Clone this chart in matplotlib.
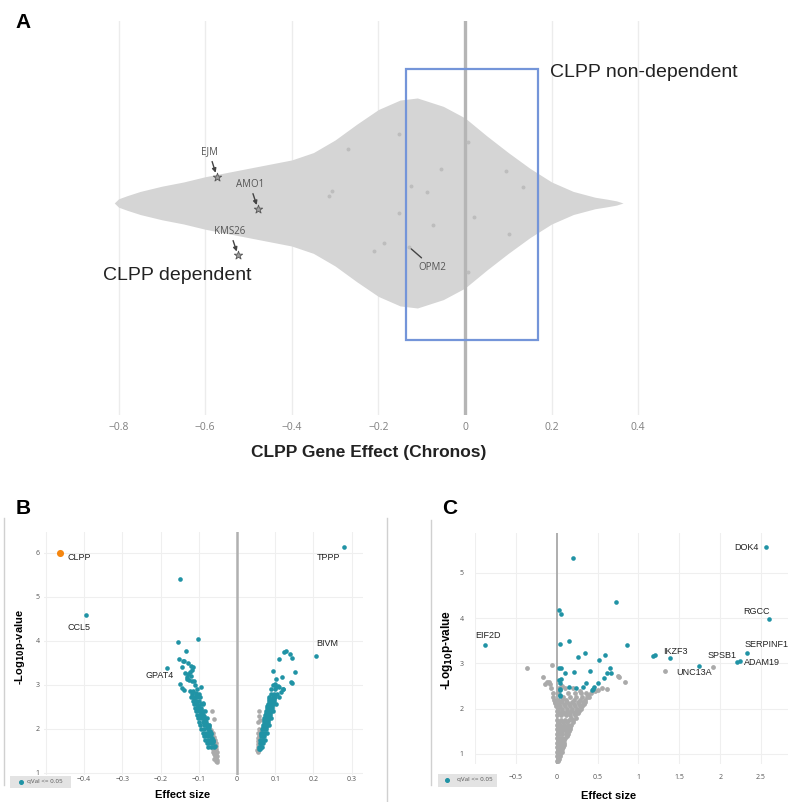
import matplotlib
matplotlib.use('Agg')
import matplotlib.pyplot as plt
from matplotlib.patches import Rectangle
from matplotlib.lines import Line2D

# ---------------- DATA ----------------
# Panel A: violin outline (CLPP gene effect vs relative half-width)
violin_x = [-0.81, -0.80, -0.78, -0.75, -0.70, -0.65, -0.60, -0.55, -0.50, -0.45, -0.40,
            -0.35, -0.30, -0.25, -0.20, -0.15, -0.11, -0.05, 0.00, 0.05, 0.10, 0.15,
            0.20, 0.25, 0.30, 0.33, 0.35, 0.365]
violin_hw = [0.0, 0.04, 0.07, 0.11, 0.16, 0.20, 0.25, 0.29, 0.33, 0.37, 0.41,
             0.48, 0.60, 0.75, 0.89, 0.98, 1.00, 0.92, 0.81, 0.64, 0.48, 0.33,
             0.20, 0.11, 0.055, 0.035, 0.02, 0.0]
cell_effect = [-0.27, -0.314, -0.308, -0.152, -0.152, -0.186, -0.21, 0.007, -0.056, -0.125,
               -0.088, 0.095, 0.134, 0.021, -0.074, 0.102, -0.129, 0.007]
cell_jitter = [0.51, 0.07, 0.11, 0.66, -0.10, -0.38, -0.46, 0.58, 0.32, 0.16,
               0.10, 0.30, 0.15, -0.13, -0.21, -0.30, -0.42, -0.66]
star_names = ['EJM', 'AMO1', 'KMS26']
star_effect = [-0.573, -0.478, -0.524]
star_jitter = [0.25, -0.057, -0.50]
opm2_effect, opm2_jitter = -0.129, -0.42
a_ticks = [-0.8, -0.6, -0.4, -0.2, 0, 0.2, 0.4]
a_tick_labels = ['\u22120.8', '\u22120.6', '\u22120.4', '\u22120.2', '0', '0.2', '0.4']
box_effect = [-0.136, 0.169]

# Panel B: volcano (effect size, -log10 p)
b_sig_x = [0.28, -0.149, -0.395, 0.208, -0.183, -0.102, -0.154, -0.134,
           -0.152, -0.141, -0.138, -0.128, -0.145, -0.120, -0.114, -0.136, -0.123, -0.120,
           -0.130, -0.125, -0.119, -0.113, -0.149, -0.143, -0.139, -0.111, -0.123, -0.115,
           -0.107, -0.131, -0.127, -0.117,
           -0.118, -0.108, -0.100, -0.120, -0.112, -0.104, -0.097, -0.116, -0.108, -0.099,
           -0.113, -0.104, -0.095, -0.090, -0.110, -0.101, -0.093, -0.108, -0.099, -0.090,
           -0.084, -0.105, -0.096, -0.088, -0.102, -0.094, -0.085, -0.079, -0.099, -0.090,
           -0.082, -0.096, -0.087, -0.079, -0.074, -0.093, -0.085, -0.077, -0.090, -0.082,
           -0.074, -0.068, -0.087, -0.079, -0.071, -0.083, -0.076, -0.068, -0.062, -0.079,
           -0.072, -0.065, -0.075, -0.068, -0.061,
           -0.095, -0.104, -0.090, -0.085, -0.072, -0.070, -0.064, -0.058,
           -0.112, -0.103, -0.094, -0.086, -0.078, -0.070, -0.106, -0.097, -0.089, -0.081,
           -0.073, -0.066, -0.101, -0.092, -0.084, -0.076, -0.069, -0.063,
           0.127, 0.124, 0.139, 0.143, 0.110, 0.094, 0.151, 0.118, 0.103, 0.141, 0.145,
           0.099, 0.120, 0.110, 0.103, 0.090,
           0.088, 0.096, 0.104, 0.085, 0.093, 0.100, 0.110, 0.083, 0.090, 0.097,
           0.080, 0.087, 0.094, 0.101, 0.078, 0.085, 0.091, 0.076, 0.082, 0.088, 0.094,
           0.074, 0.080, 0.086, 0.072, 0.077, 0.083, 0.088, 0.070, 0.075, 0.080,
           0.068, 0.073, 0.078, 0.083, 0.066, 0.071, 0.076, 0.064, 0.069, 0.073, 0.078,
           0.063, 0.067, 0.071, 0.061, 0.065, 0.069, 0.073, 0.060, 0.064, 0.067,
           0.058, 0.062, 0.066, 0.058, 0.061,
           0.115, 0.100, 0.108, 0.095, 0.120,
           0.084, 0.091, 0.098, 0.079, 0.086, 0.092, 0.075, 0.081, 0.087, 0.071, 0.076,
           0.082, 0.067, 0.072, 0.077, 0.063, 0.068, 0.062]
b_sig_y = [6.14, 5.42, 4.59, 3.66, 3.38, 4.05, 3.98, 3.77,
           3.59, 3.55, 3.54, 3.50, 3.41, 3.43, 3.41, 3.27, 3.30, 3.20,
           3.14, 3.12, 3.08, 3.10, 3.02, 2.93, 2.89, 3.00, 2.87, 2.86,
           2.82, 3.18, 3.25, 3.35,
           2.80, 2.80, 2.80, 2.72, 2.72, 2.72, 2.72, 2.64, 2.64, 2.64,
           2.56, 2.56, 2.56, 2.56, 2.48, 2.48, 2.48, 2.40, 2.40, 2.40,
           2.40, 2.32, 2.32, 2.32, 2.24, 2.24, 2.24, 2.24, 2.16, 2.16,
           2.16, 2.08, 2.08, 2.08, 2.08, 2.00, 2.00, 2.00, 1.92, 1.92,
           1.92, 1.92, 1.84, 1.84, 1.84, 1.76, 1.76, 1.76, 1.76, 1.68,
           1.68, 1.68, 1.60, 1.60, 1.60,
           2.95, 2.90, 2.60, 2.30, 2.05, 1.95, 1.70, 1.62,
           2.68, 2.52, 2.36, 2.20, 2.04, 1.88, 2.60, 2.44, 2.28, 2.12,
           1.96, 1.80, 2.52, 2.36, 2.20, 2.04, 1.88, 1.72,
           3.77, 3.75, 3.70, 3.61, 3.59, 3.32, 3.30, 3.19, 3.13, 3.06, 3.04,
           3.03, 2.90, 2.95, 2.95, 2.90,
           2.80, 2.80, 2.80, 2.72, 2.72, 2.72, 2.72, 2.64, 2.64, 2.64,
           2.56, 2.56, 2.56, 2.56, 2.48, 2.48, 2.48, 2.40, 2.40, 2.40, 2.40,
           2.32, 2.32, 2.32, 2.24, 2.24, 2.24, 2.24, 2.16, 2.16, 2.16,
           2.08, 2.08, 2.08, 2.08, 2.00, 2.00, 2.00, 1.92, 1.92, 1.92, 1.92,
           1.84, 1.84, 1.84, 1.76, 1.76, 1.76, 1.76, 1.68, 1.68, 1.68,
           1.60, 1.60, 1.60, 1.55, 1.55,
           2.85, 2.90, 2.98, 3.00, 2.90,
           2.68, 2.68, 2.68, 2.52, 2.52, 2.52, 2.36, 2.36, 2.36, 2.20, 2.20,
           2.20, 2.04, 2.04, 2.04, 1.88, 1.88, 1.72]
b_ns_x = [-0.065, -0.060, -0.072, -0.068, -0.064, -0.060, -0.057, -0.070, -0.066, -0.062,
          -0.058, -0.055, -0.064, -0.060, -0.057, -0.054, -0.061, -0.058, -0.055, -0.052,
          -0.056, -0.053, -0.059, -0.062, -0.066, -0.052, -0.053, -0.054, -0.056,
          0.057, 0.055, 0.058, 0.057, 0.056, 0.055, 0.056, 0.054, 0.055, 0.053, 0.054,
          0.056, 0.057, 0.059, 0.061, 0.058]
b_ns_y = [2.41, 2.22, 2.10, 1.98, 1.90, 1.82, 1.75, 1.80, 1.72, 1.66,
          1.58, 1.55, 1.55, 1.50, 1.45, 1.42, 1.44, 1.38, 1.34, 1.30,
          1.28, 1.25, 1.32, 1.48, 1.60, 1.38, 1.48, 1.62, 1.68,
          2.42, 2.16, 2.30, 2.00, 1.90, 1.80, 1.72, 1.65, 1.58, 1.52, 1.47,
          1.50, 1.62, 1.95, 2.20, 1.85]
b_target = ('CLPP', -0.463, 6.0)
b_genes = ['CLPP', 'TPPP', 'CCL5', 'BIVM', 'GPAT4']
b_gene_x = [-0.463, 0.28, -0.395, 0.208, -0.183]
b_gene_y = [6.0, 6.14, 4.59, 3.66, 3.38]

# Panel C: volcano
c_sig_x = [2.56, 2.60, 2.33, 2.20, 2.24, 1.74, 1.18, 1.20, 1.39, -0.88,
           0.195, 0.72, 0.025, 0.05, 0.035, 0.15, 0.86, 0.26, 0.345, 0.515, 0.59,
           0.025, 0.05, 0.10, 0.21, 0.41, 0.65, 0.66, 0.61, 0.58, 0.025, 0.05, 0.045,
           0.155, 0.24, 0.32, 0.355, 0.50, 0.46, 0.44, 0.43, 0.035, 0.045, 0.035, 0.045]
c_sig_y = [5.57, 3.98, 3.23, 3.03, 3.06, 2.95, 3.17, 3.19, 3.12, 3.41,
           5.33, 4.36, 4.19, 4.10, 3.43, 3.50, 3.41, 3.14, 3.22, 3.07, 3.19,
           2.89, 2.90, 2.78, 2.80, 2.83, 2.89, 2.79, 2.79, 2.67, 2.64, 2.66, 2.56,
           2.49, 2.46, 2.49, 2.56, 2.56, 2.48, 2.43, 2.41, 2.41, 2.43, 2.28, 2.30]
c_ns_x = [0.005, 0.015,
          0.005, 0.02, 0.04,
          0.005, 0.02, 0.04, 0.06,
          0.005, 0.025, 0.05, 0.075,
          0.005, 0.03, 0.06, 0.09,
          0.005, 0.03, 0.065, 0.10,
          0.005, 0.035, 0.07, 0.11, 0.14,
          0.005, 0.04, 0.08, 0.12, 0.16,
          0.005, 0.045, 0.09, 0.135, 0.18,
          0.005, 0.05, 0.10, 0.15, 0.20,
          0.005, 0.055, 0.11, 0.165, 0.22,
          0.005, 0.06, 0.12, 0.18, 0.24, 0.27,
          -0.01, 0.04, 0.10, 0.16, 0.22, 0.28, 0.31,
          -0.02, 0.05, 0.12, 0.19, 0.26, 0.32, 0.35,
          -0.04, 0.08, 0.16, 0.24, 0.31, 0.37, 0.40,
          -0.05, 0.02, 0.14, 0.22, 0.30, 0.36, 0.42,
          0.01, 0.03, 0.015, 0.045, 0.02, 0.05, 0.07, 0.025, 0.055, 0.085, 0.03, 0.06,
          0.095, 0.125, 0.03, 0.07, 0.11, 0.15, 0.035, 0.075, 0.12, 0.16, 0.20,
          0.03, 0.08, 0.13, 0.18, 0.23, 0.03, 0.09, 0.15, 0.21, 0.26, 0.01, 0.07, 0.13,
          0.19, 0.25, 0.30, 0.02, 0.09, 0.15, 0.21, 0.27, 0.33, 0.01, 0.06, 0.11, 0.21,
          0.28, 0.34, 0.38,
          -0.36, -0.06, -0.165, -0.12, -0.10, -0.14, -0.08, -0.07, -0.03, -0.025,
          0.62, 0.55, 0.50, 0.47, 0.10, 0.20, 0.28, 0.75, 0.76, 0.84, 1.32, 1.91,
          0.06, 0.03]
c_ns_y = [0.85, 0.85,
          0.95, 0.95, 0.95,
          1.05, 1.05, 1.05, 1.05,
          1.15, 1.15, 1.15, 1.15,
          1.25, 1.25, 1.25, 1.25,
          1.35, 1.35, 1.35, 1.35,
          1.45, 1.45, 1.45, 1.45, 1.45,
          1.55, 1.55, 1.55, 1.55, 1.55,
          1.65, 1.65, 1.65, 1.65, 1.65,
          1.75, 1.75, 1.75, 1.75, 1.75,
          1.85, 1.85, 1.85, 1.85, 1.85,
          1.95, 1.95, 1.95, 1.95, 1.95, 1.95,
          2.05, 2.05, 2.05, 2.05, 2.05, 2.05, 2.05,
          2.15, 2.15, 2.15, 2.15, 2.15, 2.15, 2.15,
          2.25, 2.25, 2.25, 2.25, 2.25, 2.25, 2.25,
          2.35, 2.35, 2.35, 2.35, 2.35, 2.35, 2.35,
          0.90, 0.90, 1.00, 1.00, 1.10, 1.10, 1.10, 1.20, 1.20, 1.20, 1.30, 1.30,
          1.30, 1.40, 1.50, 1.50, 1.50, 1.50, 1.60, 1.60, 1.60, 1.60, 1.70,
          1.70, 1.70, 1.70, 1.80, 1.80, 1.90, 1.90, 1.90, 1.90, 1.90, 2.00, 2.00, 2.00,
          2.00, 2.00, 2.00, 2.10, 2.10, 2.10, 2.10, 2.10, 2.10, 2.20, 2.20, 2.20, 2.20,
          2.20, 2.20, 2.30,
          2.90, 2.96, 2.71, 2.58, 2.60, 2.55, 2.55, 2.45, 2.20, 2.12,
          2.43, 2.45, 2.42, 2.40, 2.45, 2.45, 2.40, 2.73, 2.70, 2.58, 2.83, 2.92,
          2.50, 2.45]
c_genes = ['DOK4', 'RGCC', 'SERPINF1', 'ADAM19', 'SPSB1', 'UNC13A', 'IKZF3', 'EIF2D']
c_gene_x = [2.56, 2.60, 2.33, 2.24, 2.20, 1.91, 1.39, -0.88]
c_gene_y = [5.57, 3.98, 3.23, 3.06, 3.03, 2.92, 3.12, 3.41]

# ---------------- LAYOUT / STYLE ----------------
W = H = 802
fig = plt.figure(figsize=(8.02, 8.02), dpi=100)
TEAL = '#2093a5'
GRAY = '#aaaaaa'
ORANGE = '#f5860f'
LAB = ['Liberation Sans', 'DejaVu Sans']
TICK = ['Open Sans', 'DejaVu Sans']


def px_axes(l, t, r, b):
    return fig.add_axes([l / W, 1 - b / H, (r - l) / W, (b - t) / H])


def ftext(x, y, s, **kw):
    return fig.text(x / W, 1 - y / H, s, **kw)


def fline(x0, y0, x1, y1, **kw):
    fig.add_artist(Line2D([x0 / W, x1 / W], [1 - y0 / H, 1 - y1 / H],
                          transform=fig.transFigure, **kw))


def frect(l, t, r, b, **kw):
    fig.add_artist(Rectangle((l / W, 1 - b / H), (r - l) / W, (b - t) / H,
                             transform=fig.transFigure, **kw))


def clean(ax):
    for s in ax.spines.values():
        s.set_visible(False)
    ax.tick_params(length=0)


# ---------------- PANEL A ----------------
axA = px_axes(30, 21, 710, 415)
clean(axA)
axA.set_xlim(-1.0046, 0.5658)
axA.set_ylim(-2.019, 1.733)
for t in a_ticks:
    if t != 0:
        axA.axvline(t, color='#ececec', lw=1, zorder=0)
axA.fill_between(violin_x, [-h for h in violin_hw], violin_hw, color='#d5d5d5',
                 lw=0, zorder=1)
axA.axvline(0, color='#b5b5b5', lw=2.4, zorder=2)
axA.scatter(cell_effect, cell_jitter, s=8, color='#bdbdbd', zorder=3, lw=0)
axA.scatter(star_effect, star_jitter, s=40, marker='*', facecolor='#a0a0a0',
            edgecolor='#555555', lw=0.6, zorder=4)
star_label_pos = [(-0.591, 0.486), (-0.497, 0.18), (-0.543, -0.267)]
for name, x, y, (lx, ly) in zip(star_names, star_effect, star_jitter, star_label_pos):
    axA.annotate(name, xy=(x, y), xytext=(lx, ly), ha='center', va='center',
                 fontsize=7, color='#555555', family=TICK,
                 arrowprops=dict(arrowstyle='-|>', color='#444444', lw=1.0,
                                 mutation_scale=6, shrinkA=1, shrinkB=3), zorder=5)
axA.annotate('OPM2', xy=(opm2_effect, opm2_jitter), xytext=(-0.076, -0.61),
             ha='center', va='center', fontsize=7, color='#555555', family=TICK,
             arrowprops=dict(arrowstyle='-', color='#444444', lw=1.0, shrinkA=1, shrinkB=2),
             zorder=5)
axA.add_patch(Rectangle((box_effect[0], -1.305), box_effect[1] - box_effect[0], 2.581,
                        fill=False, edgecolor='#7495d9', lw=1.6, zorder=6))
axA.text(0.196, 1.238, 'CLPP non-dependent', fontsize=14, family=LAB, va='center',
         ha='left', color='#222222')
axA.text(-0.836, -0.695, 'CLPP dependent', fontsize=14, family=LAB, va='center',
         ha='left', color='#222222')
axA.set_yticks([])
axA.set_xticks(a_ticks)
axA.set_xticklabels(a_tick_labels, fontsize=7.5, color='#808080', family=TICK)
axA.tick_params(axis='x', pad=5)
ftext(369, 452, 'CLPP Gene Effect (Chronos)', fontsize=12.5, weight='bold', family=LAB,
      ha='center', va='center', color='#222222')
ftext(23, 23, 'A', fontsize=15, weight='bold', family=LAB, ha='center', va='center')

# ---------------- PANEL B ----------------
axB = px_axes(44, 532, 363, 775)
clean(axB)
axB.set_xlim(-0.505, 0.3298)
axB.set_ylim(0.9545, 6.477)
for t in [-0.5, -0.4, -0.3, -0.2, -0.1, 0.1, 0.2, 0.3]:
    axB.axvline(t, color='#efefef', lw=0.8, zorder=0)
for t in [1, 2, 3, 4, 5, 6]:
    axB.axhline(t, color='#efefef', lw=0.8, zorder=0)
axB.axvline(0, color='#b0b0b0', lw=1.8, zorder=1)
axB.scatter(b_ns_x, b_ns_y, s=11, color=GRAY, lw=0, zorder=2)
axB.scatter(b_sig_x, b_sig_y, s=11, color=TEAL, lw=0, zorder=3)
axB.scatter([b_target[1]], [b_target[2]], s=26, color=ORANGE, lw=0, zorder=4)
b_off = {'CLPP': (7, -5, 'left'), 'TPPP': (-4, -11, 'right'), 'CCL5': (-19, -12, 'left'),
         'BIVM': (0, 12, 'left'), 'GPAT4': (-22, -7, 'left')}
for g, x, y in zip(b_genes, b_gene_x, b_gene_y):
    dx, dy, ha = b_off[g]
    axB.annotate(g, xy=(x, y), xytext=(dx, dy), textcoords='offset pixels',
                 ha=ha, va='center', fontsize=6.5, family=LAB, color='#222222')
axB.set_xticks([-0.4, -0.3, -0.2, -0.1, 0, 0.1, 0.2, 0.3])
axB.set_xticklabels(['\u22120.4', '\u22120.3', '\u22120.2', '\u22120.1', '0',
                     '0.1', '0.2', '0.3'], fontsize=5, color='#555555', family=TICK)
axB.set_yticks([1, 2, 3, 4, 5, 6])
axB.set_yticklabels(['1', '2', '3', '4', '5', '6'], fontsize=5, color='#555555', family=TICK)
axB.tick_params(axis='x', pad=1)
axB.tick_params(axis='y', pad=3)
ftext(20, 647, r'-Log$_{\mathbf{10}}$p-value', rotation=90, fontsize=8, weight='bold',
      family=LAB, ha='center', va='center')
ftext(183, 795, 'Effect size', fontsize=8, weight='bold', family=LAB, ha='center',
      va='center')
ftext(23, 508, 'B', fontsize=15, weight='bold', family=LAB, ha='center', va='center')

# ---------------- PANEL C ----------------
axC = px_axes(475, 533, 788, 764)
clean(axC)
axC.set_xlim(-1.0, 2.83)
axC.set_ylim(0.779, 5.88)
for t in [-1, -0.5, 0.5, 1, 1.5, 2, 2.5]:
    axC.axvline(t, color='#efefef', lw=0.8, zorder=0)
for t in [1, 2, 3, 4, 5]:
    axC.axhline(t, color='#efefef', lw=0.8, zorder=0)
axC.axvline(0, color='#a8a8a8', lw=1.3, zorder=1)
axC.scatter(c_ns_x, c_ns_y, s=12, color=GRAY, lw=0, zorder=2)
axC.scatter(c_sig_x, c_sig_y, s=11, color=TEAL, lw=0, zorder=3)
c_off = {'DOK4': (-7, 0, 'right'), 'RGCC': (-13, 8, 'center'), 'SERPINF1': (-3, 9, 'left'),
         'ADAM19': (4, -2, 'left'), 'SPSB1': (0, 7, 'right'), 'UNC13A': (-1, -5, 'right'),
         'IKZF3': (-7, 6, 'left'), 'EIF2D': (3, 9, 'center')}
for g, x, y in zip(c_genes, c_gene_x, c_gene_y):
    dx, dy, ha = c_off[g]
    axC.annotate(g, xy=(x, y), xytext=(dx, dy), textcoords='offset pixels',
                 ha=ha, va='center', fontsize=6.5, family=LAB, color='#222222')
axC.set_xticks([-0.5, 0, 0.5, 1, 1.5, 2, 2.5])
axC.set_xticklabels(['\u22120.5', '0', '0.5', '1', '1.5', '2', '2.5'],
                    fontsize=5, color='#555555', family=TICK)
axC.set_yticks([1, 2, 3, 4, 5])
axC.set_yticklabels(['1', '2', '3', '4', '5'], fontsize=5, color='#555555', family=TICK)
axC.tick_params(axis='x', pad=7)
axC.tick_params(axis='y', pad=8)
ftext(447, 650, r'-Log$_{\mathbf{10}}$p-value', rotation=90, fontsize=8.5, weight='bold',
      family=LAB, ha='center', va='center')
ftext(609, 796, 'Effect size', fontsize=8, weight='bold', family=LAB, ha='center',
      va='center')
ftext(450, 508, 'C', fontsize=15, weight='bold', family=LAB, ha='center', va='center')

# ---------------- frames & legends ----------------
fline(4, 518, 4, 785, color='#d0d0d0', lw=1)
fline(387, 518, 387, 802, color='#d0d0d0', lw=1)
fline(431, 520, 431, 785, color='#d0d0d0', lw=1)

frect(10, 776, 71, 788, facecolor='#e3e3e3', edgecolor='none', zorder=10)
fig.add_artist(Line2D([21 / W], [1 - 782 / H], marker='o', markersize=2.6, color=TEAL,
                      transform=fig.transFigure, zorder=11, lw=0))
ftext(27, 782, 'qVal <= 0.05', fontsize=4.5, color='#555555', family=TICK, va='center',
      ha='left', zorder=11)
frect(438, 774, 497, 787, facecolor='#e3e3e3', edgecolor='none', zorder=10)
fig.add_artist(Line2D([447 / W], [1 - 780 / H], marker='o', markersize=2.6, color=TEAL,
                      transform=fig.transFigure, zorder=11, lw=0))
ftext(457, 780, 'qVal <= 0.05', fontsize=4.5, color='#555555', family=TICK, va='center',
      ha='left', zorder=11)

fig.savefig('out.png', dpi=100)
